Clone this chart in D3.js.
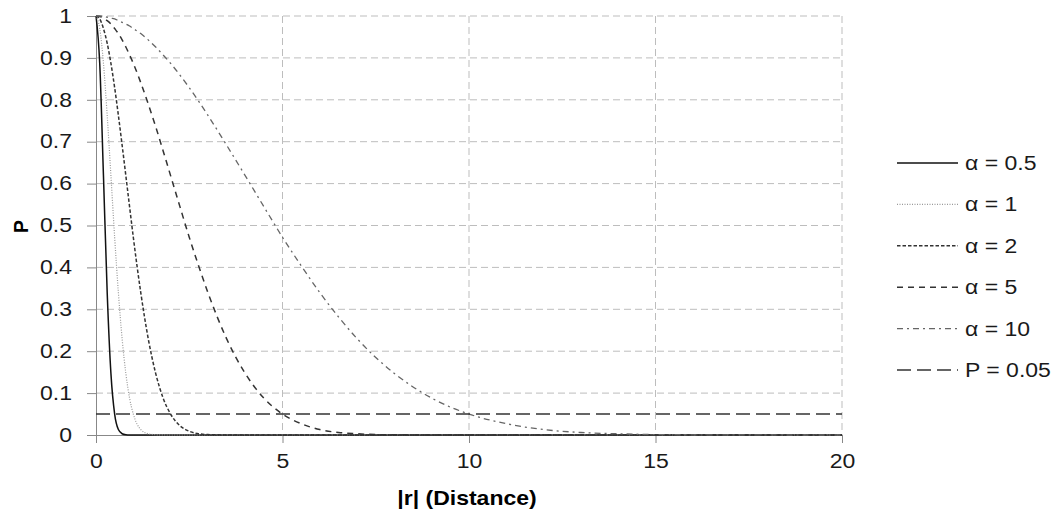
<!DOCTYPE html>
<html>
<head>
<meta charset="utf-8">
<script src="https://cdn.jsdelivr.net/npm/d3@7"></script>
<style>
  body { margin: 0; background: #fff; }
  text { font-family: "Liberation Sans", Arial, sans-serif; }
</style>
</head>
<body>
<script>
// distances (x values) shared by every curve
const distance = [0, 0.1, 0.2, 0.3, 0.4, 0.5, 0.6, 0.7, 0.8, 0.9, 1.0,
    1.2, 1.4, 1.6, 1.8, 2.0, 2.25, 2.5, 2.75, 3,
    3.5, 4, 4.5, 5, 5.5, 6, 6.5, 7, 7.5, 8,
    9, 10, 11, 12, 13, 14, 15, 16, 18, 20];

// P, one array per alpha
const alpha05 = [1, 0.887, 0.619, 0.340, 0.147, 0.050, 0.013, 0.003, 0.0005, 0, 0,
    0, 0, 0, 0, 0, 0, 0, 0, 0,
    0, 0, 0, 0, 0, 0, 0, 0, 0, 0,
    0, 0, 0, 0, 0, 0, 0, 0, 0, 0];
const alpha1 = [1, 0.970, 0.887, 0.763, 0.619, 0.472, 0.340, 0.230, 0.147, 0.088, 0.050,
    0.013, 0.003, 0.0005, 0.0001, 0, 0, 0, 0, 0,
    0, 0, 0, 0, 0, 0, 0, 0, 0, 0,
    0, 0, 0, 0, 0, 0, 0, 0, 0, 0];
const alpha2 = [1, 0.993, 0.970, 0.935, 0.887, 0.829, 0.763, 0.692, 0.619, 0.545, 0.472,
    0.340, 0.230, 0.147, 0.088, 0.050, 0.022, 0.009, 0.003, 0.001,
    0.0001, 0, 0, 0, 0, 0, 0, 0, 0, 0,
    0, 0, 0, 0, 0, 0, 0, 0, 0, 0];
const alpha5 = [1, 0.999, 0.995, 0.989, 0.981, 0.970, 0.958, 0.943, 0.926, 0.907, 0.887,
    0.841, 0.790, 0.736, 0.678, 0.619, 0.545, 0.472, 0.404, 0.340,
    0.230, 0.147, 0.088, 0.050, 0.027, 0.013, 0.006, 0.003, 0.001, 0.0005,
    0.0001, 0, 0, 0, 0, 0, 0, 0, 0, 0];
const alpha10 = [1, 1.000, 0.999, 0.997, 0.995, 0.993, 0.989, 0.985, 0.981, 0.976, 0.970,
    0.958, 0.943, 0.926, 0.907, 0.887, 0.859, 0.829, 0.797, 0.763,
    0.692, 0.619, 0.545, 0.472, 0.404, 0.340, 0.282, 0.230, 0.185, 0.147,
    0.088, 0.050, 0.027, 0.013, 0.006, 0.003, 0.001, 0.0005, 0.0001, 0];

// threshold line
const thresholdX = [0, 20];
const thresholdP = [0.05, 0.05];

const xTicks = [0, 5, 10, 15, 20];
const yTicks = [0, 0.1, 0.2, 0.3, 0.4, 0.5, 0.6, 0.7, 0.8, 0.9, 1];

const seriesNames = ["α = 0.5", "α = 1", "α = 2", "α = 5", "α = 10", "P = 0.05"];

// line styles, same order as the names
const styles = [
    { stroke: "#111", width: 1.5, dash: null },
    { stroke: "#999", width: 1.2, dash: "1,1.5" },
    { stroke: "#333", width: 1.5, dash: "3.5,2" },
    { stroke: "#333", width: 1.5, dash: "6,5" },
    { stroke: "#666", width: 1.3, dash: "6,4,2,4" },
    { stroke: "#333", width: 1.5, dash: "14,6" }
];

const series = [
    { xs: distance, ys: alpha05 },
    { xs: distance, ys: alpha1 },
    { xs: distance, ys: alpha2 },
    { xs: distance, ys: alpha5 },
    { xs: distance, ys: alpha10 },
    { xs: thresholdX, ys: thresholdP }
];

const FONT = 19.5, K = 1.18;   // text in the picture is a bit wider than Arial

// stretch text horizontally around its own x
function widen(sel) {
    sel.each(function () {
        const t = d3.select(this);
        const x0 = +t.attr("x") || 0;
        t.attr("x", x0 / K).attr("transform", `scale(${K},1)`);
    });
}

const margin = { top: 16, right: 217, bottom: 81, left: 96 },
      width = 1059 - margin.left - margin.right,
      height = 516 - margin.top - margin.bottom;

const svg = d3.select("body").append("svg")
    .attr("width", 1059)
    .attr("height", 516);

const g = svg.append("g")
    .attr("transform", `translate(${margin.left},${margin.top})`);

const x = d3.scaleLinear().domain([0, 20]).range([0, width]);
const y = d3.scaleLinear().domain([0, 1]).range([height, 0]);

// grid
g.append("g")
    .selectAll("line")
    .data(yTicks.filter(d => d > 0))
    .enter().append("line")
    .attr("x1", 0).attr("x2", width)
    .attr("y1", d => y(d)).attr("y2", d => y(d))
    .attr("stroke", "#bdbdbd")
    .attr("stroke-dasharray", "7,4");

g.append("g")
    .selectAll("line")
    .data(xTicks.filter(d => d > 0))
    .enter().append("line")
    .attr("x1", d => x(d)).attr("x2", d => x(d))
    .attr("y1", 0).attr("y2", height)
    .attr("stroke", "#bdbdbd")
    .attr("stroke-dasharray", "7,4");

// axes
const xAxis = g.append("g")
    .attr("transform", `translate(0,${height})`)
    .call(d3.axisBottom(x).tickValues(xTicks).tickSize(8).tickPadding(11).tickFormat(d3.format("d")));

const yAxis = g.append("g")
    .call(d3.axisLeft(y).tickValues(yTicks).tickSize(9).tickPadding(15).tickFormat(d => d === 0 || d === 1 ? d : d3.format(".1f")(d)));

[xAxis, yAxis].forEach(a => {
    a.select(".domain").attr("stroke", "#888");
    a.selectAll(".tick line").attr("stroke", "#888");
    a.selectAll("text")
        .attr("font-size", FONT + "px")
        .attr("fill", "#1a1a1a")
        .style("font-family", "'Liberation Sans', Arial, sans-serif")
        .call(widen);
});

// curves
const line = d3.line()
    .x(d => x(d[0]))
    .y(d => y(d[1]))
    .curve(d3.curveMonotoneX);

g.append("g")
    .selectAll("path")
    .data(series)
    .enter().append("path")
    .attr("d", s => line(s.xs.map((v, i) => [v, s.ys[i]])))
    .attr("fill", "none")
    .attr("stroke", (s, i) => styles[i].stroke)
    .attr("stroke-width", (s, i) => styles[i].width)
    .attr("stroke-dasharray", (s, i) => styles[i].dash);

// axis titles
svg.append("text")
    .attr("x", 467)
    .attr("y", 505)
    .attr("text-anchor", "middle")
    .attr("font-size", FONT + "px")
    .attr("font-weight", "bold")
    .text("|r| (Distance)")
    .call(widen);

svg.append("text")
    .attr("transform", `translate(28,${margin.top + height / 2 + 1}) rotate(-90)`)
    .attr("text-anchor", "middle")
    .attr("font-size", FONT + "px")
    .attr("font-weight", "bold")
    .text("P");

// legend
const legend = svg.append("g")
    .attr("transform", "translate(897,163)");

const rows = legend.selectAll("g")
    .data(seriesNames)
    .enter().append("g")
    .attr("transform", (d, i) => `translate(0,${i * 41.4})`);

rows.append("line")
    .attr("x1", 0).attr("x2", 61)
    .attr("y1", 0).attr("y2", 0)
    .attr("stroke", (d, i) => styles[i].stroke)
    .attr("stroke-width", (d, i) => styles[i].width)
    .attr("stroke-dasharray", (d, i) => styles[i].dash);

rows.append("text")
    .attr("x", 68)
    .attr("y", 7)
    .attr("font-size", FONT + "px")
    .attr("fill", "#1a1a1a")
    .text(d => d)
    .call(widen);
</script>
</body>
</html>
